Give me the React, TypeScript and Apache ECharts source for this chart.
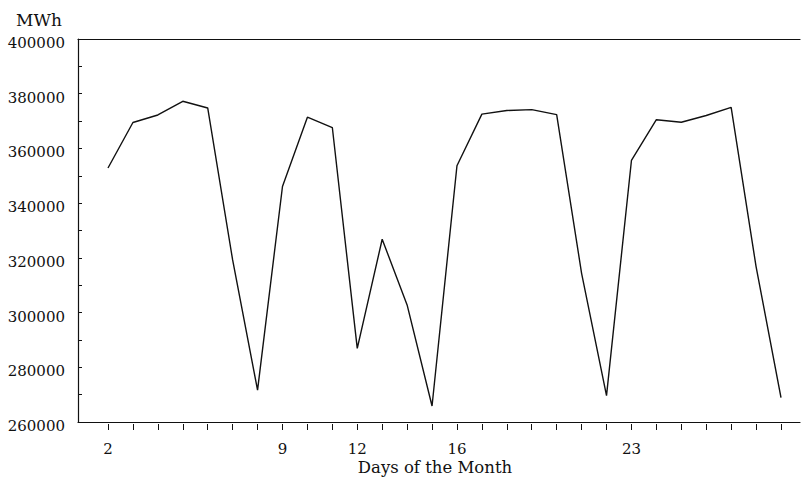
import React, { useEffect, useRef } from "react";
import * as echarts from "echarts";

const days: string[] = [
  "2", "3", "4", "5", "6", "7", "8", "9", "10", "11", "12", "13", "14", "15",
  "16", "17", "18", "19", "20", "21", "22", "23", "24", "25", "26", "27", "28", "29",
];
const labelledDays: string[] = ["2", "9", "12", "16", "23"];
const mwh: number[] = [
  353800, 370100, 372800, 377700, 375300, 320900, 274300,
  347200, 372000, 368300, 289200, 328300, 304800, 268600,
  354600, 373100, 374400, 374700, 372900, 316100, 272300,
  356500, 371100, 370200, 372600, 375500, 318500, 271600,
];
const yMin = 260000;
const yMax = 400000;
const yStep = 10000;
const yLabelStep = 20000;

const FONT = "DejaVu Serif";

export default function App() {
  const ref = useRef<HTMLDivElement>(null);
  useEffect(() => {
    document.body.style.margin = "0";
    if (!ref.current) return;
    const chart = echarts.init(ref.current, undefined, { renderer: "svg" });
    chart.setOption({
      animation: false,
      backgroundColor: "#ffffff",
      title: {
        text: "MWh",
        left: 11,
        top: 6,
        textStyle: { fontFamily: FONT, fontSize: 17, fontWeight: "normal", color: "#111" },
      },
      grid: [
        { left: 78, right: 4, top: 39, bottom: 51 },
        { left: 108, right: 23, top: 39, bottom: 51 },
      ],
      xAxis: [
        {
          gridIndex: 0,
          type: "value",
          min: 0,
          max: 1,
          axisLine: { show: true, lineStyle: { color: "#111", width: 1.2 } },
          axisTick: { show: false },
          axisLabel: { show: false },
          splitLine: { show: false },
          name: "Days of the Month",
          nameLocation: "middle",
          nameGap: 37,
          nameTextStyle: {
            fontFamily: FONT,
            fontSize: 16.5,
            color: "#111",
            padding: [0, 8, 0, 0],
          },
        },
        {
          gridIndex: 0,
          type: "value",
          position: "top",
          min: 0,
          max: 1,
          axisLine: { show: true, lineStyle: { color: "#111", width: 1.2 } },
          axisTick: { show: false },
          axisLabel: { show: false },
          splitLine: { show: false },
        },
        {
          gridIndex: 1,
          type: "category",
          data: days,
          boundaryGap: false,
          axisLine: { show: false },
          axisTick: {
            show: true,
            inside: true,
            length: 6,
            interval: 0,
            lineStyle: { color: "#111", width: 1 },
          },
          axisLabel: {
            interval: 0,
            margin: 11,
            fontFamily: FONT,
            fontSize: 15,
            color: "#111",
            formatter: (v: string) => (labelledDays.includes(v) ? v : ""),
          },
          splitLine: { show: false },
        },
      ],
      yAxis: [
        {
          gridIndex: 0,
          type: "value",
          min: yMin,
          max: yMax,
          interval: yStep,
          axisLine: { show: true, lineStyle: { color: "#111", width: 1.2 } },
          axisTick: { show: true, inside: true, length: 4, lineStyle: { color: "#111" } },
          axisLabel: {
            margin: 13,
            fontFamily: FONT,
            fontSize: 15,
            color: "#111",
            verticalAlign: "top",
            lineHeight: 8,
            formatter: (v: number) => (v % yLabelStep === 0 ? String(v) : ""),
          },
          splitLine: { show: false },
        },
        {
          gridIndex: 1,
          type: "value",
          min: yMin,
          max: yMax,
          interval: yStep,
          show: false,
          splitLine: { show: false },
        },
      ],
      series: [
        {
          type: "line",
          xAxisIndex: 2,
          yAxisIndex: 1,
          data: mwh,
          showSymbol: false,
          symbol: "none",
          lineStyle: { color: "#111", width: 1.4 },
        },
      ],
    });
    return () => chart.dispose();
  }, []);
  return <div ref={ref} style={{ width: 804, height: 481 }} />;
}
